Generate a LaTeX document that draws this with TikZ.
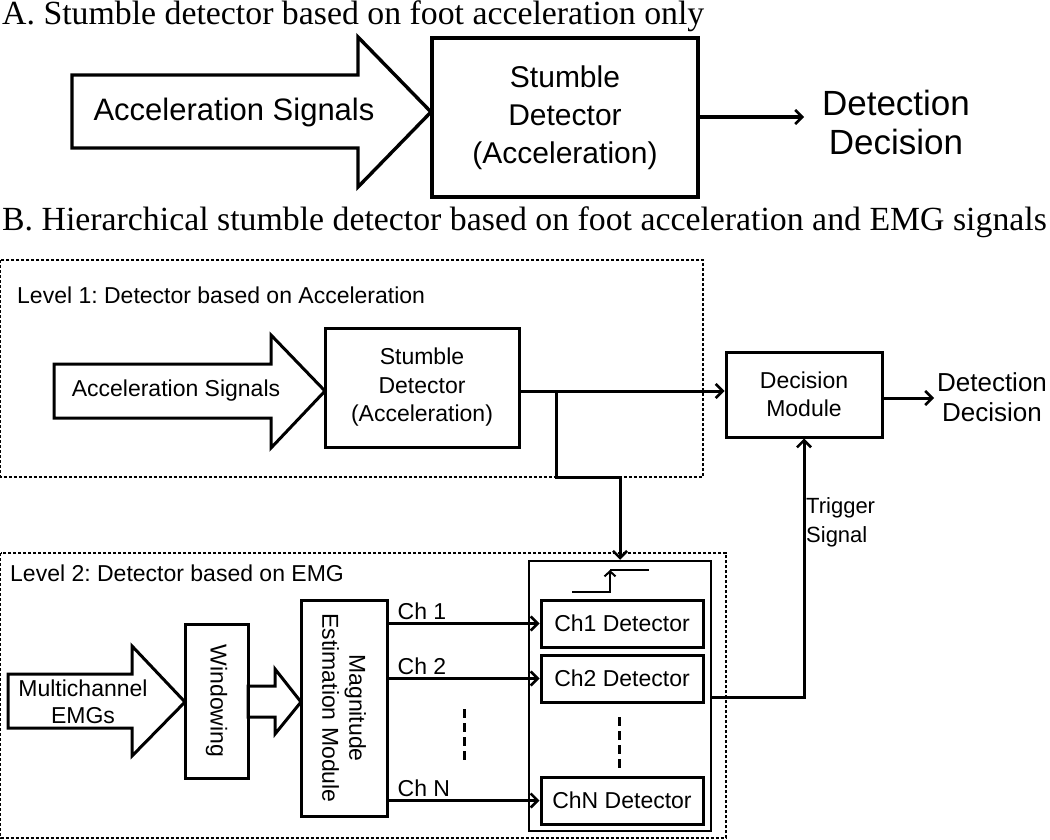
\documentclass[tikz,border=0pt]{standalone}
\usepackage{fontspec}
\setmainfont{Liberation Serif}
\setsansfont{Liberation Sans}
\usetikzlibrary{arrows.meta,positioning,calc}
\newcommand{\fsz}[2]{\fontsize{#1}{#2}\selectfont}
\frenchspacing

\begin{document}
\begin{tikzpicture}[x=1pt, y=-1pt]
\tikzset{
  title/.style={font=\rmfamily\fsz{33.8}{40}, anchor=base west, inner sep=0pt},
  blkbox/.style={draw, line width=3pt, align=center, inner sep=0pt, font=\sffamily\fsz{23}{28.5}},
  bigbox/.style={draw, line width=3.6pt, align=center, inner sep=0pt, font=\sffamily\fsz{30}{38}},
  txt/.style={align=center, inner sep=0pt, font=\sffamily\fsz{23}{27}},
  levelbox/.style={draw, line width=1.1pt, dash pattern=on 3pt off 2pt},
  blkarrow/.style={draw, line width=3pt, line join=miter},
  flowline/.style={line width=3pt, -{Straight Barb[length=7pt, width=14pt, line width=2.6pt]}},
  dotsline/.style={line width=3pt, dash pattern=on 9pt off 5pt}
}
\useasboundingbox (0,0) rectangle (1050,840);

%% Part A
\node (titleA) [title] at (2,25) {A. Stumble detector based on foot acceleration only};
\draw [blkarrow, line width=3.4pt] (72,75) -- (358,75) -- (358,37) -- (431,112) -- (358,187)
  -- (358,148) -- (72,148) -- cycle;
\node (accA) [txt, font=\sffamily\fsz{31}{38}] at (234,112) {Acceleration Signals};
\node (detA) [bigbox, minimum width=266pt, minimum height=159pt] at (565,117.5)
  {Stumble\\Detector\\(Acceleration)};
\node (decA) [txt, font=\sffamily\fsz{35}{39}] at (896,122) {Detection\\Decision};
\draw [flowline, line width=3.6pt] (detA.east |- 0,117) -- (804,117);

%% Part B
\node (titleB) [title] at (2,230) {B. Hierarchical stumble detector based on foot acceleration and EMG signals};

% Level 1
\draw [levelbox] (0.6,260) rectangle (703,477);
\node [txt, anchor=west] at (17,295) {Level 1: Detector based on Acceleration};
\draw [blkarrow] (54,364) -- (271,364) -- (271,335) -- (325,391) -- (271,448)
  -- (271,418) -- (54,418) -- cycle;
\node (acc1) [txt] at (176,391) {Acceleration Signals};
\node (det1) [blkbox, minimum width=194pt, minimum height=119pt] at (422,387.5)
  {Stumble\\Detector\\(Acceleration)};
\node (decmod) [blkbox, minimum width=156pt, minimum height=85pt] at (804,394.5)
  {Decision\\Module};
\node (decB) [txt, font=\sffamily\fsz{26}{30}] at (992,397) {Detection\\Decision};
\coordinate (split) at (556,391);
\draw [flowline] (det1.east |- split) -- (decmod.west |- split);
\draw [flowline] (decmod.east |- 0,398) -- (934,398);

% Level 2
\draw [levelbox] (0.6,553) rectangle (726,838);
\node [txt, anchor=west] at (10,573) {Level 2: Detector based on EMG};
\draw [blkarrow] (8,674) -- (132,674) -- (132,646) -- (185,702) -- (132,756)
  -- (132,728) -- (8,728) -- cycle;
\node (emg) [txt] at (83,701.5) {Multichannel\\EMGs};
\node (win) [blkbox, minimum width=63pt, minimum height=154pt] at (216.5,701) {};
\node [txt, rotate=-90] at (win) {Windowing};
\draw [blkarrow] (248,686) -- (275,686) -- (275,669) -- (301,702) -- (275,734)
  -- (275,717) -- (248,717) -- cycle;
\node (mag) [blkbox, minimum width=86pt, minimum height=216pt] at (344,708) {};
\node [txt, rotate=-90] at (mag) {Magnitude\\Estimation Module};

\node (bank) [draw, line width=2.5pt, minimum width=182pt, minimum height=270pt] at (620,696) {};
\node (ch1) [blkbox, minimum width=162pt, minimum height=47pt] at (622,623.5) {Ch1 Detector};
\node (ch2) [blkbox, minimum width=162pt, minimum height=47pt] at (622,678.5) {Ch2 Detector};
\node (chN) [blkbox, minimum width=162pt, minimum height=47pt] at (622,800.5) {ChN Detector};

\foreach \c/\lab in {ch1/Ch 1, ch2/Ch 2, chN/Ch N} {
  \draw [flowline] (\c.west -| mag.east) -- (\c.west);
  \node [txt, anchor=south west] at ($(\c.west -| mag.east)+(9,-4)$) {\lab};
}
\draw [dotsline] (464,709) -- (464,763);
\draw [dotsline] (619,717) -- (619,770);

% threshold step
\draw [line width=2.2pt, -{Straight Barb[length=5pt, width=11pt, line width=2pt]}] (572,592) -| (610,570);
\draw [line width=2.2pt] (610,570) -- (649,570);

% level 1 -> level 2 and trigger
\draw [flowline] (split) |- (620,477) -- (bank.north);
\draw [flowline] (bank.east |- 0,697) -| (decmod.south);
\node [txt, font=\sffamily\fsz{22}{29}, align=left, anchor=west] at (806,522) {Trigger\\Signal};
\end{tikzpicture}
\end{document}
